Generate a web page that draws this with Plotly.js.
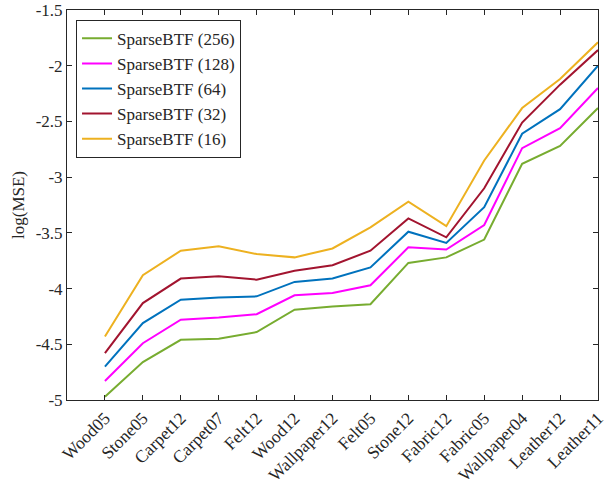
<!DOCTYPE html>
<html>
<head>
<meta charset="utf-8">
<script src="https://cdn.plot.ly/plotly-3.0.1.min.js"></script>
<style>html,body{margin:0;padding:0;background:#fff;}#chart{width:608px;height:484px;}</style>
</head>
<body>
<div id="chart"></div>
<script>
const categories = ["Wood05","Stone05","Carpet12","Carpet07","Felt12","Wood12","Wallpaper12","Felt05","Stone12","Fabric12","Fabric05","Wallpaper04","Leather12","Leather11"];
const s256 = [-4.97,-4.66,-4.46,-4.45,-4.39,-4.19,-4.16,-4.14,-3.77,-3.72,-3.56,-2.88,-2.72,-2.38];
const s128 = [-4.83,-4.49,-4.28,-4.26,-4.23,-4.06,-4.04,-3.97,-3.63,-3.65,-3.43,-2.74,-2.56,-2.20];
const s64  = [-4.70,-4.31,-4.10,-4.08,-4.07,-3.94,-3.91,-3.81,-3.49,-3.59,-3.27,-2.61,-2.39,-2.00];
const s32  = [-4.58,-4.13,-3.91,-3.89,-3.92,-3.84,-3.79,-3.66,-3.37,-3.54,-3.10,-2.51,-2.17,-1.86];
const s16  = [-4.43,-3.88,-3.66,-3.62,-3.69,-3.72,-3.64,-3.45,-3.22,-3.44,-2.85,-2.38,-2.12,-1.79];
const seriesNames = ["SparseBTF (256)","SparseBTF (128)","SparseBTF (64)","SparseBTF (32)","SparseBTF (16)"];
const seriesColors = ["#77AC30","#FF00FF","#0072BD","#A2142F","#EDB120"];
const yTickVals = [-5,-4.5,-4,-3.5,-3,-2.5,-2,-1.5];
const yTickText = ["-5","-4.5","-4","-3.5","-3","-2.5","-2","-1.5"];

const allSeries = [s256,s128,s64,s32,s16];
const traces = allSeries.map((s,i)=>({
  x: categories, y: s, type:"scatter", mode:"lines",
  name: seriesNames[i], line:{color:seriesColors[i], width:2}
}));
const font = {family:"Liberation Serif, serif", color:"#262626"};
const axisCommon = {
  showline:true, linecolor:"#262626", linewidth:1, mirror:"ticks",
  ticks:"inside", ticklen:5, tickcolor:"#262626", showgrid:false, zeroline:false
};
const layout = {
  width:608, height:484,
  margin:{l:67, r:10, t:10, b:84},
  paper_bgcolor:"#fff", plot_bgcolor:"#fff",
  font: Object.assign({size:17}, font),
  showlegend:true,
  legend:{x:0.017, y:0.975, xanchor:"left", yanchor:"top", bgcolor:"#fff",
    bordercolor:"#262626", borderwidth:1, font:Object.assign({size:17}, font),
    tracegroupgap:0, itemwidth:30},
  xaxis: Object.assign({}, axisCommon, {
    type:"category", range:[-1,13], tickangle:-45,
    tickfont:Object.assign({size:17.5}, font)
  }),
  yaxis: Object.assign({}, axisCommon, {
    range:[-5,-1.5], tickvals:yTickVals, ticktext:yTickText,
    tickfont:Object.assign({size:17}, font),
    title:{text:"log(MSE)", font:Object.assign({size:17}, font), standoff:6}
  })
};
Plotly.newPlot("chart", traces, layout, {displayModeBar:false, staticPlot:true});
</script>
</body>
</html>
